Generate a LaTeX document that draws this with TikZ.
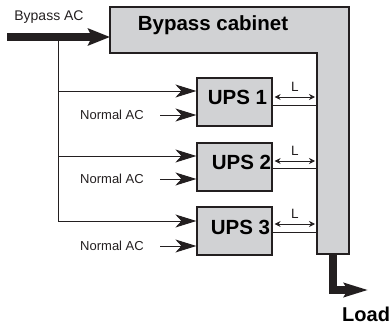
\documentclass[tikz,border=0pt]{standalone}
\usepackage{fontspec}
\setmainfont{Liberation Sans}
\usetikzlibrary{arrows.meta,calc}
\definecolor{boxgray}{HTML}{D1D2D4}
\definecolor{inkdark}{HTML}{231F20}
\begin{document}
\begin{tikzpicture}[x=1pt,y=-1pt,
  upsbox/.style={draw=inkdark,line width=1.2pt,fill=boxgray,minimum width=75pt,minimum height=48pt,inner sep=0pt},
  bigtext/.style={font=\fontsize{20.5}{22}\selectfont\bfseries,inner sep=0pt},
  smalltext/.style={font=\fontsize{13}{15}\selectfont,inner sep=0pt,text=inkdark},
  thickarrow/.style={draw=inkdark,line width=8pt,-{Stealth[length=22pt,width=17pt,inset=4pt]}},
  feed/.style={draw=inkdark,line width=1pt,-{Stealth[length=21pt,width=13pt,inset=6pt]}},
  larrow/.style={draw=inkdark,line width=0.8pt,{Stealth[length=6pt,width=6pt,inset=2pt]}-{Stealth[length=6pt,width=6pt,inset=2pt]}},
  link/.style={draw=inkdark,line width=1pt}]
\useasboundingbox (0,0) rectangle (392,324);
% Bypass cabinet (L-shaped)
\draw[fill=boxgray,draw=inkdark,line width=1.2pt] (110,7) -- (349,7) -- (349,254) -- (317,254) -- (317,53) -- (110,53) -- cycle;
\node[bigtext] (cab) at (213,25) {Bypass cabinet};
\coordinate (cabW) at (110,37);
\coordinate (cabB) at (333,254);
% UPS boxes
\node[upsbox] (u1) at (234.5,102) {};
\node[upsbox] (u2) at (234.5,167) {};
\node[upsbox] (u3) at (234.5,231) {};
\node[bigtext] (t1) at (237.5,97.5) {UPS 1};
\node[bigtext] (t2) at (241.5,162) {UPS 2};
\node[bigtext] (t3) at (240.5,227) {UPS 3};
% Bypass AC input
\coordinate (bypin) at (7,37);
\node[smalltext,font=\fontsize{14}{16}\selectfont] (bylab) at (49,17.5) {Bypass AC};
\draw[thickarrow] (bypin) -- (cabW);
\coordinate (j0) at (58,37);
\coordinate (j1) at (58,91);
\coordinate (j2) at (58,156);
\coordinate (j3) at (58,221);
\draw[link] (j0) -- (j3);
\draw[feed] (j1) -- (u1.west |- j1);
\draw[feed] (j2) -- (u2.west |- j2);
\draw[feed] (j3) -- (u3.west |- j3);
% Normal AC
\node[smalltext,anchor=east] (n1) at (144,115) {Normal AC};
\node[smalltext,anchor=east] (n2) at (144,179) {Normal AC};
\node[smalltext,anchor=east] (n3) at (144,246) {Normal AC};
\draw[feed] (160,115) -- (u1.west |- n1);
\draw[feed] (160,179) -- (u2.west |- n2);
\draw[feed] (160,246) -- (u3.west |- n3);
% Cabinet inner edge coordinates
\coordinate (c1) at (317,105);
\coordinate (c2) at (317,168);
\coordinate (c3) at (317,232);
\draw[link] (u1.east |- c1) -- (c1);
\draw[link] (u2.east |- c2) -- (c2);
\draw[link] (u3.east |- c3) -- (c3);
% L arrows
\coordinate (a1) at (315,97);
\coordinate (a2) at (315,161);
\coordinate (a3) at (315,224);
\draw[larrow] ($(u1.east |- a1)+(2,0)$) -- (a1);
\draw[larrow] ($(u2.east |- a2)+(2,0)$) -- (a2);
\draw[larrow] ($(u3.east |- a3)+(2,0)$) -- (a3);
\node[smalltext,font=\fontsize{13.5}{15}\selectfont] (l1) at (295,87) {L};
\node[smalltext,font=\fontsize{13.5}{15}\selectfont] (l2) at (295,151) {L};
\node[smalltext,font=\fontsize{13.5}{15}\selectfont] (l3) at (295,214) {L};
% Load
\coordinate (loadtip) at (368,290);
\draw[draw=inkdark,line width=8pt,-{Stealth[length=24pt,width=14pt,inset=4pt]}] (cabB) -- (333,290) -- (loadtip);
\node[bigtext,font=\fontsize{20}{22}\selectfont\bfseries,anchor=west] (load) at (342,314) {Load};
\end{tikzpicture}
\end{document}
